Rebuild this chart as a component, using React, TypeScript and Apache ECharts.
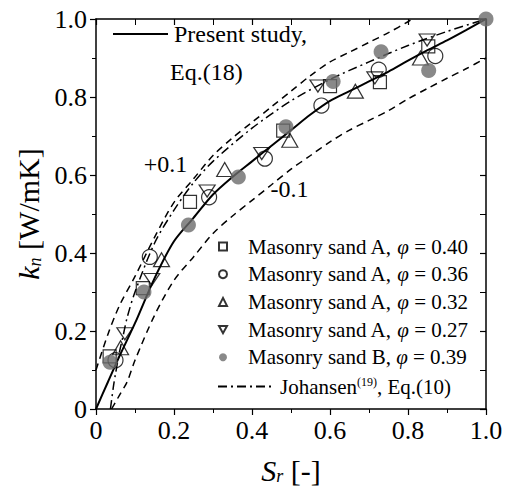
import { useEffect, useRef } from 'react';
import * as echarts from 'echarts';

// Present study, Eq.(18)
const presentX = [0, 0.03, 0.06, 0.1, 0.15, 0.2, 0.25, 0.3, 0.35, 0.4, 0.45, 0.5, 0.55, 0.6, 0.65, 0.7, 0.75, 0.8, 0.85, 0.9, 0.95, 1.0];
const presentY = [0, 0.068, 0.135, 0.22, 0.335, 0.43, 0.49, 0.55, 0.595, 0.635, 0.675, 0.715, 0.755, 0.79, 0.815, 0.84, 0.865, 0.893, 0.92, 0.945, 0.972, 1.0];

// +0.1 band
const upperX = [0, 0.03, 0.06, 0.1, 0.15, 0.2, 0.25, 0.3, 0.35, 0.4, 0.45, 0.5, 0.55, 0.6, 0.65, 0.7, 0.75, 0.8, 0.81];
const upperY = [0.1, 0.19, 0.265, 0.34, 0.44, 0.53, 0.59, 0.65, 0.695, 0.735, 0.775, 0.815, 0.855, 0.89, 0.915, 0.94, 0.965, 0.993, 1.0];

// -0.1 band
const lowerX = [0.04, 0.06, 0.08, 0.1, 0.15, 0.2, 0.25, 0.3, 0.35, 0.4, 0.45, 0.5, 0.55, 0.6, 0.65, 0.7, 0.75, 0.8, 0.85, 0.9, 0.95, 1.0];
const lowerY = [0, 0.035, 0.07, 0.125, 0.24, 0.33, 0.39, 0.45, 0.495, 0.535, 0.575, 0.615, 0.65, 0.685, 0.715, 0.74, 0.765, 0.795, 0.822, 0.848, 0.873, 0.9];

// Johansen, Eq.(10)
const johansenX = [0.037, 0.045, 0.05, 0.06, 0.07, 0.08, 0.1, 0.15, 0.2, 0.25, 0.3, 0.4, 0.5, 0.6, 0.7, 0.8, 0.9, 1.0];
const johansenY = [0, 0.06, 0.09, 0.145, 0.19, 0.235, 0.3, 0.425, 0.51, 0.58, 0.635, 0.72, 0.79, 0.845, 0.89, 0.932, 0.968, 1.0];

// Measurements [Sr, kn]
const sandA40 = [[0.035, 0.135], [0.12, 0.31], [0.241, 0.531], [0.48, 0.714], [0.6, 0.828], [0.728, 0.838], [0.852, 0.93]];
const sandA36 = [[0.05, 0.125], [0.138, 0.39], [0.29, 0.543], [0.433, 0.642], [0.578, 0.778], [0.725, 0.87], [0.87, 0.905]];
const sandA32 = [[0.063, 0.157], [0.168, 0.383], [0.33, 0.614], [0.497, 0.689], [0.665, 0.815], [0.832, 0.9]];
const sandA27 = [[0.074, 0.193], [0.143, 0.332], [0.285, 0.559], [0.425, 0.655], [0.569, 0.828], [0.715, 0.849], [0.849, 0.946]];
const sandB39 = [[0.036, 0.12], [0.123, 0.3], [0.237, 0.472], [0.365, 0.595], [0.487, 0.724], [0.608, 0.84], [0.731, 0.916], [0.853, 0.868], [1.0, 1.0]];

const xTicks = [0, 0.2, 0.4, 0.6, 0.8, 1.0];
const yTicks = [0, 0.2, 0.4, 0.6, 0.8, 1.0];

const seriesNames = [
  'Masonry sand A, φ = 0.40',
  'Masonry sand A, φ = 0.36',
  'Masonry sand A, φ = 0.32',
  'Masonry sand A, φ = 0.27',
  'Masonry sand B, φ = 0.39',
];
const phiValues = ['0.40', '0.36', '0.32', '0.27', '0.39'];
const sandLabels = ['A', 'A', 'A', 'A', 'B'];

const FONT = "'Liberation Serif', 'Times New Roman', Times, serif";
const INV_TRI = 'path://M0,0 L10,0 L5,9 Z';

const zip = (xs: number[], ys: number[]) => xs.map((x, i) => [x, ys[i]]);
const fmt = (v: number) => (v === 0 ? '0' : v.toFixed(1));

export default function App() {
  const ref = useRef<HTMLDivElement>(null);

  useEffect(() => {
    if (!ref.current) return;
    const chart = echarts.init(ref.current, undefined, { renderer: 'svg' });

    const openItem = { color: 'rgba(0,0,0,0)', borderColor: '#000', borderWidth: 1.2 };
    const richLegend = {
      a: { fontFamily: FONT, fontSize: 21, color: '#000' },
      i: { fontFamily: FONT, fontSize: 21, color: '#000', fontStyle: 'italic' },
      sup: { fontFamily: FONT, fontSize: 12, color: '#000', verticalAlign: 'top' },
    };
    const nameRich = {
      i: { fontFamily: FONT, fontSize: 30, fontStyle: 'italic', color: '#000' },
      sub: { fontFamily: FONT, fontSize: 18, fontStyle: 'italic', color: '#000', verticalAlign: 'bottom', padding: [12, 0, 0, 0] },
      a: { fontFamily: FONT, fontSize: 30, color: '#000' },
    };

    const axisCommon = {
      type: 'value',
      min: 0,
      max: 1,
      interval: 0.2,
      splitLine: { show: false },
      axisLine: { onZero: false, lineStyle: { color: '#000', width: 1.5 } },
    };

    const option: any = {
      animation: false,
      backgroundColor: '#fff',
      textStyle: { fontFamily: FONT },
      grid: { left: 96, right: 25, top: 19, bottom: 82 },
      xAxis: [
        {
          ...axisCommon,
          position: 'bottom',
          axisTick: { inside: false, length: 6, lineStyle: { color: '#000', width: 1.2 } },
          minorTick: { show: true, splitNumber: 2, length: 4, lineStyle: { color: '#000', width: 1 } },
          axisLabel: {
            fontFamily: FONT, fontSize: 26, color: '#000', margin: 8,
            formatter: (v: number) => (xTicks.includes(Number(v.toFixed(1))) ? fmt(v) : ''),
          },
          name: '{i|S}{sub|r}{a| [-]}',
          nameLocation: 'middle',
          nameGap: 46,
          nameTextStyle: { fontFamily: FONT, rich: nameRich },
        },
        {
          ...axisCommon,
          position: 'top',
          axisTick: { inside: true, length: 6, lineStyle: { color: '#000', width: 1.2 } },
          minorTick: { show: true, splitNumber: 2, length: 6, lineStyle: { color: '#000', width: 1 } },
          axisLabel: { show: false },
        },
      ],
      yAxis: [
        {
          ...axisCommon,
          position: 'left',
          axisTick: { inside: false, length: 6, lineStyle: { color: '#000', width: 1.2 } },
          minorTick: { show: true, splitNumber: 2, length: 4, lineStyle: { color: '#000', width: 1 } },
          axisLabel: {
            fontFamily: FONT, fontSize: 26, color: '#000', margin: 9,
            formatter: (v: number) => (yTicks.includes(Number(v.toFixed(1))) ? fmt(v) : ''),
          },
          name: '{i|k}{sub|n}{a| [W/mK]}',
          nameLocation: 'middle',
          nameGap: 50,
          nameTextStyle: { fontFamily: FONT, rich: nameRich },
        },
        {
          ...axisCommon,
          position: 'right',
          axisTick: { inside: true, length: 6, lineStyle: { color: '#000', width: 1.2 } },
          minorTick: { show: true, splitNumber: 2, length: 6, lineStyle: { color: '#000', width: 1 } },
          axisLabel: { show: false },
        },
      ],
      legend: [
        {
          data: [{ name: 'Present study,', itemStyle: { opacity: 0 } }],
          left: 112,
          top: 22,
          padding: 0,
          itemWidth: 55,
          itemHeight: 14,
          selectedMode: false,
          formatter: '{a|Present study,}',
          textStyle: {
            fontFamily: FONT,
            padding: [0, 0, 0, 1],
            rich: { a: { fontFamily: FONT, fontSize: 24, color: '#000' } },
          },
        },
        {
          data: seriesNames,
          orient: 'vertical',
          left: 218,
          top: 236,
          padding: 0,
          itemGap: 6.7,
          itemWidth: 8,
          itemHeight: 8,
          selectedMode: false,
          formatter: (name: string) => {
            const idx = seriesNames.indexOf(name);
            return `{a|Masonry sand ${sandLabels[idx]}, }{i|φ}{a| = ${phiValues[idx]}}`;
          },
          textStyle: { fontFamily: FONT, padding: [0, 0, 0, 16], rich: richLegend },
        },
        {
          data: [{ name: 'Johansen, Eq.(10)', itemStyle: { opacity: 0 } }],
          left: 217,
          top: 376,
          padding: 0,
          itemWidth: 53,
          itemHeight: 14,
          selectedMode: false,
          formatter: '{a|Johansen}{sup|(19)}{a|, Eq.(10)}',
          textStyle: { fontFamily: FONT, padding: [0, 0, 0, 4], rich: richLegend },
        },
      ],
      series: [
        {
          name: 'Present study,',
          type: 'line',
          data: zip(presentX, presentY),
          smooth: 0.3,
          symbol: 'none',
          lineStyle: { color: '#000', width: 2 },
          itemStyle: { color: '#000' },
          z: 3,
        },
        {
          name: '+0.1',
          type: 'line',
          data: zip(upperX, upperY),
          smooth: 0.3,
          symbol: 'none',
          lineStyle: { color: '#000', width: 1.5, type: [7, 5] },
          itemStyle: { color: '#000' },
        },
        {
          name: '-0.1',
          type: 'line',
          data: zip(lowerX, lowerY),
          smooth: 0.3,
          symbol: 'none',
          lineStyle: { color: '#000', width: 1.5, type: [7, 5] },
          itemStyle: { color: '#000' },
        },
        {
          name: 'Johansen, Eq.(10)',
          type: 'line',
          data: zip(johansenX, johansenY),
          smooth: 0.3,
          symbol: 'none',
          lineStyle: { color: '#000', width: 1.5, type: [9, 4, 2, 4] },
          itemStyle: { color: '#000' },
        },
        {
          name: seriesNames[0],
          type: 'scatter',
          data: sandA40,
          symbol: 'rect',
          symbolSize: 13,
          itemStyle: openItem,
          z: 4,
        },
        {
          name: seriesNames[1],
          type: 'scatter',
          data: sandA36,
          symbol: 'circle',
          symbolSize: 15,
          itemStyle: openItem,
          z: 4,
        },
        {
          name: seriesNames[2],
          type: 'scatter',
          data: sandA32,
          symbol: 'triangle',
          symbolSize: [16, 14],
          itemStyle: openItem,
          z: 4,
        },
        {
          name: seriesNames[3],
          type: 'scatter',
          data: sandA27,
          symbol: INV_TRI,
          symbolSize: [16, 12],
          itemStyle: openItem,
          z: 4,
        },
        {
          name: seriesNames[4],
          type: 'scatter',
          data: sandB39,
          symbol: 'circle',
          symbolSize: 15,
          itemStyle: { color: '#6c6c6c' },
          z: 4,
        },
      ],
    };

    chart.setOption(option);

    const plus = chart.convertToPixel({ gridIndex: 0 }, [0.178, 0.629]) as number[];
    const minus = chart.convertToPixel({ gridIndex: 0 }, [0.496, 0.565]) as number[];
    chart.setOption({
      graphic: [
        {
          type: 'text', x: 170, y: 72,
          style: { text: 'Eq.(18)', fontFamily: FONT, fontSize: 24, fill: '#000', align: 'left', verticalAlign: 'middle' },
        },
        {
          type: 'text', x: plus[0], y: plus[1],
          style: { text: '+0.1', fontFamily: FONT, fontSize: 24, fill: '#000', align: 'center', verticalAlign: 'middle' },
        },
        {
          type: 'text', x: minus[0], y: minus[1],
          style: { text: '-0.1', fontFamily: FONT, fontSize: 24, fill: '#000', align: 'center', verticalAlign: 'middle' },
        },
      ],
    });

    return () => chart.dispose();
  }, []);

  return <div ref={ref} style={{ position: 'fixed', left: 0, top: 0, width: 511, height: 491, background: '#fff' }} />;
}
